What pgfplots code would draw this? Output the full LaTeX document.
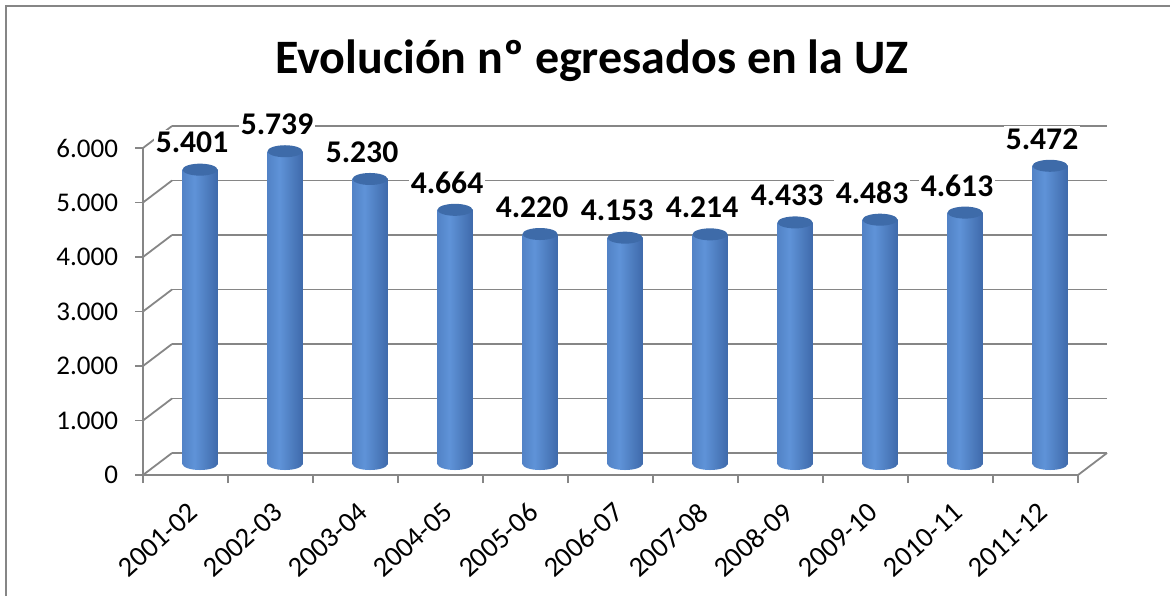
\documentclass[border=0pt]{standalone}
\usepackage{fontspec}
\setmainfont{Carlito}
\usepackage{pgfplots}
\pgfplotsset{compat=1.18}
\definecolor{gridgray}{HTML}{868686}
\definecolor{barL}{HTML}{3A64A4}
\definecolor{barM}{HTML}{5F93D8}
\definecolor{barR}{HTML}{2C518C}
\definecolor{capC}{HTML}{3E6BA9}
\pgfdeclarehorizontalshading{cylshade}{100bp}{color(0bp)=(barL); color(12bp)=(barL!60!barM); color(42bp)=(barM); color(80bp)=(barL); color(100bp)=(barR)}
\pgfdeclareplotmark{cylbottom}{%
  \pgfpathellipse{\pgfpointorigin}{\pgfqpoint{8.75pt}{0pt}}{\pgfqpoint{0pt}{3pt}}%
  \pgfshadepath{cylshade}{0}\pgfusepath{discard}}
\pgfdeclareplotmark{cyltop}{%
  \pgfpathellipse{\pgfpointorigin}{\pgfqpoint{8.75pt}{0pt}}{\pgfqpoint{0pt}{3pt}}%
  \pgfsetfillcolor{capC}\pgfusepath{fill}}
\pgfplotsset{cyl/.style={ybar, bar width=17.5pt, draw=none, shading=cylshade, shade, forget plot}}
\begin{document}
\begin{tikzpicture}
\path[use as bounding box] (0,0) rectangle (585pt,298pt);
\draw[gridgray, line width=1.1pt] (3pt,0) -- (3pt,295pt) -- (585pt,295pt);
\node[font=\bfseries\fontsize{24}{28}\selectfont, anchor=base west, inner sep=0pt] at (137.5pt,261.35pt) {Evolución nº egresados en la UZ};
% back wall
\begin{axis}[at={(86pt,71.5pt)}, anchor=south west, scale only axis,
  width=467.5pt, height=163.5pt, xmin=-0.5, xmax=10.5, ymin=0, ymax=6000,
  ytick={0,1000,...,6000}, xtick=\empty, yticklabels={},
  ymajorgrids, grid style={gridgray, line width=0.9pt},
  axis line style={draw=none}, major tick length=0pt]
\end{axis}
% front axis
\begin{axis}[at={(71.5pt,60.5pt)}, anchor=south west, scale only axis,
  width=467.5pt, height=163.5pt, xmin=-0.5, xmax=10.5, ymin=0, ymax=6000,
  axis x line=bottom, axis y line=left, clip=false,
  axis line style={-, gridgray, line width=0.9pt},
  ytick={0,1000,...,6000},
  yticklabels={0,1.000,2.000,3.000,4.000,5.000,6.000},
  xtick={0,...,10},
  xticklabels={2001-02,2002-03,2003-04,2004-05,2005-06,2006-07,2007-08,2008-09,2009-10,2010-11,2011-12},
  minor xtick={-0.5,0.5,...,10.5},
  tick align=outside, major tick length=4pt, minor tick length=4pt,
  tick style={gridgray, line width=0.9pt},
  major x tick style={draw=none},
  yticklabel style={font=\fontsize{13.5}{16}\selectfont, anchor=east, xshift=-5pt},
  xticklabel style={font=\fontsize{14.2}{16}\selectfont, rotate=42, anchor=east, yshift=-12pt, xshift=-2pt},
]
\pgfplotsinvokeforeach{0,1000,...,6000}{
  \draw[gridgray, line width=0.9pt] (axis cs:-0.5,#1) -- ++(14.5pt,11pt);
}
\draw[gridgray, line width=0.9pt] (axis cs:10.5,0) -- ++(14.5pt,11pt);
\end{axis}
% bars (mid depth)
\begin{axis}[at={(78.75pt,66pt)}, anchor=south west, scale only axis,
  width=467.5pt, height=163.5pt, xmin=-0.5, xmax=10.5, ymin=0, ymax=6000,
  hide axis, clip=false]
\addplot[only marks, mark=cylbottom] coordinates {
(0,0) (1,0) (2,0) (3,0) (4,0) (5,0) (6,0) (7,0) (8,0) (9,0) (10,0)};
\addplot[cyl] coordinates {(0,5401)};
\addplot[cyl] coordinates {(1,5739)};
\addplot[cyl] coordinates {(2,5230)};
\addplot[cyl] coordinates {(3,4664)};
\addplot[cyl] coordinates {(4,4220)};
\addplot[cyl] coordinates {(5,4153)};
\addplot[cyl] coordinates {(6,4214)};
\addplot[cyl] coordinates {(7,4433)};
\addplot[cyl] coordinates {(8,4483)};
\addplot[cyl] coordinates {(9,4613)};
\addplot[cyl] coordinates {(10,5472)};
\addplot[only marks, mark=cyltop, point meta=explicit symbolic,
  nodes near coords,
  nodes near coords style={font=\bfseries\fontsize{15.8}{18}\selectfont, anchor=center,
    yshift=13.5pt, xshift=-4pt, fill=white, inner sep=1pt, text=black}] coordinates {
(0,5401) [5.401] (1,5739) [5.739] (2,5230) [5.230] (3,4664) [4.664] (4,4220) [4.220] (5,4153) [4.153] (6,4214) [4.214] (7,4433) [4.433] (8,4483) [4.483] (9,4613) [4.613] (10,5472) [5.472]};
\end{axis}
\end{tikzpicture}
\end{document}
